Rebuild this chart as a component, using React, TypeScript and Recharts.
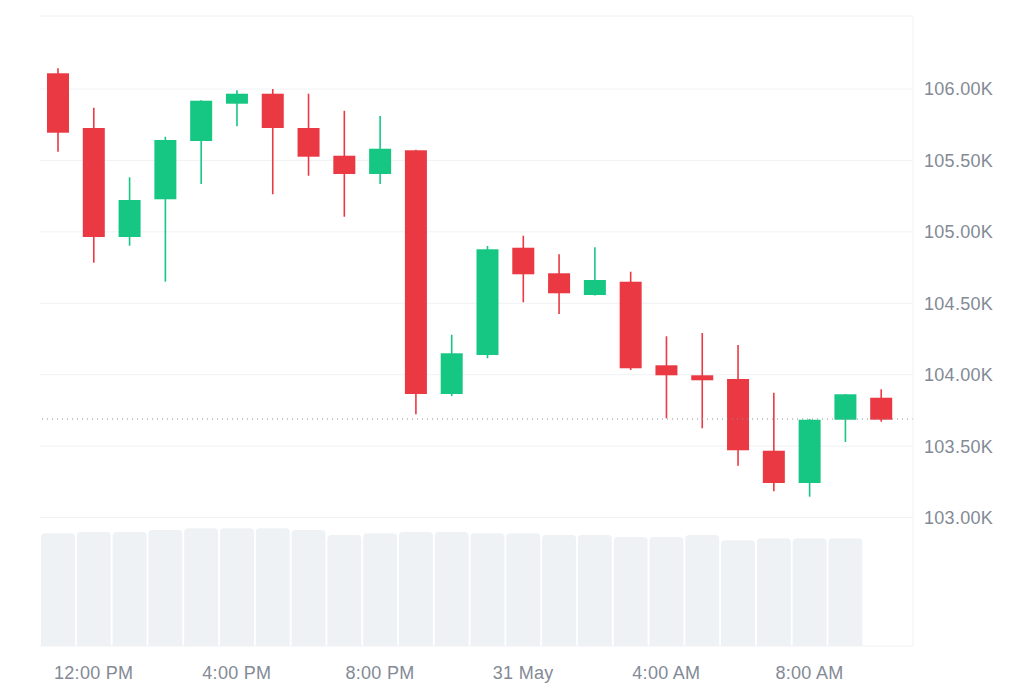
import React from "react";
import {
  ComposedChart,
  Bar,
  XAxis,
  YAxis,
  CartesianGrid,
  ReferenceLine,
} from "recharts";

const times = [
  "11:00 AM", "12:00 PM", "1:00 PM", "2:00 PM", "3:00 PM", "4:00 PM",
  "5:00 PM", "6:00 PM", "7:00 PM", "8:00 PM", "9:00 PM", "10:00 PM",
  "11:00 PM", "31 May", "1:00 AM", "2:00 AM", "3:00 AM", "4:00 AM",
  "5:00 AM", "6:00 AM", "7:00 AM", "8:00 AM", "9:00 AM", "10:00 AM",
];

const opens = [
  106110, 105727, 104964, 105228, 105636, 105897, 105967, 105727,
  105533, 105405, 105571, 103865, 104138, 104889, 104710, 104558,
  104651, 104066, 103996, 103970, 103468, 103242, 103685, 103839,
];
const highs = [
  106145, 105869, 105382, 105666, 105922, 105991, 106000, 105967,
  105848, 105811, 105575, 104280, 104901, 104973, 104843, 104892,
  104721, 104269, 104292, 104208, 103874, 103690, 103865, 103898,
];
const lows = [
  105561, 104784, 104903, 104651, 105335, 105739, 105263, 105393,
  105106, 105335, 103723, 103851, 104115, 104507, 104425, 104555,
  104033, 103695, 103625, 103363, 103184, 103146, 103529, 103671,
];
const closes = [
  105694, 104964, 105223, 105643, 105918, 105967, 105727, 105526,
  105405, 105582, 103865, 104150, 104878, 104703, 104570, 104663,
  104045, 103996, 103961, 103471, 103242, 103685, 103863, 103685,
];
const volumes = [
  179, 181, 181, 184, 187, 187, 187, 184, 176, 179, 181, 181,
  179, 179, 176, 176, 173, 173, 176, 168, 171, 171, 171, null,
];

const priceTicks = [103000, 103500, 104000, 104500, 105000, 105500, 106000];
const timeTicks = ["12:00 PM", "4:00 PM", "8:00 PM", "31 May", "4:00 AM", "8:00 AM"];
const lastPrice = 103690;

const UP = "#16c784";
const DOWN = "#ea3943";
const TEXT = "#838a96";
const GRID = "#eff2f5";

const data = times.map((t, i) => ({
  t,
  open: opens[i],
  high: highs[i],
  low: lows[i],
  close: closes[i],
  volume: volumes[i],
}));

function Candle(props: any) {
  const { x, y, width, height, payload } = props;
  if (!payload) return null;
  const { open, close, high, low } = payload;
  const ratio = height / (high - low || 1);
  const top = y + (high - Math.max(open, close)) * ratio;
  const bottom = y + (high - Math.min(open, close)) * ratio;
  const color = close >= open ? UP : DOWN;
  const cx = x + width / 2;
  return (
    <g>
      <line x1={cx} x2={cx} y1={y} y2={y + height} stroke={color} strokeWidth={1.6} />
      <rect x={x} y={top} width={width} height={Math.max(bottom - top, 2)} fill={color} />
    </g>
  );
}

const tickStyle = {
  fill: TEXT,
  fontSize: 18,
  fontFamily: "'Liberation Sans', Arial, sans-serif",
  letterSpacing: 0.3,
};

export default function App() {
  return (
    <div style={{ width: 1024, height: 683 }}>
      <style>{`body{margin:0}`}</style>
      <ComposedChart
        width={1024}
        height={683}
        data={data}
        margin={{ top: 16, right: 0, left: 40, bottom: 0 }}
      >
        <CartesianGrid yAxisId="price" vertical={false} stroke={GRID} horizontalValues={priceTicks} />
        <XAxis
          dataKey="t"
          ticks={timeTicks}
          interval={0}
          padding={{ left: 0, right: 14 }}
          height={37}
          tickLine={false}
          axisLine={{ stroke: GRID }}
          tickMargin={14}
          tick={tickStyle}
        />
        <XAxis xAxisId="vol" dataKey="t" hide padding={{ left: 0, right: 14 }} />
        <YAxis
          yAxisId="price"
          orientation="right"
          domain={[102101, 106511]}
          allowDataOverflow
          ticks={priceTicks}
          tickFormatter={(v: number) => `${(v / 1000).toFixed(2)}K`}
          width={111}
          tickLine={false}
          axisLine={{ stroke: GRID }}
          tickMargin={5}
          tick={tickStyle}
        />
        <YAxis
          yAxisId="vol"
          orientation="left"
          domain={[0, 1000]}
          width={0}
          tick={false}
          tickLine={false}
          axisLine={{ stroke: GRID }}
        />
        <ReferenceLine yAxisId="price" y={106511} stroke={GRID} />
        <Bar
          xAxisId="vol"
          yAxisId="vol"
          dataKey="volume"
          barSize={34}
          fill={GRID}
          radius={[4, 4, 0, 0]}
          isAnimationActive={false}
        />
        <ReferenceLine
          yAxisId="price"
          y={lastPrice}
          stroke="#8a8f99"
          strokeDasharray="1 4"
          strokeWidth={1.2}
        />
        <Bar
          yAxisId="price"
          dataKey={(d: any) => [d.low, d.high]}
          barSize={22}
          shape={<Candle />}
          isAnimationActive={false}
        />
      </ComposedChart>
    </div>
  );
}
